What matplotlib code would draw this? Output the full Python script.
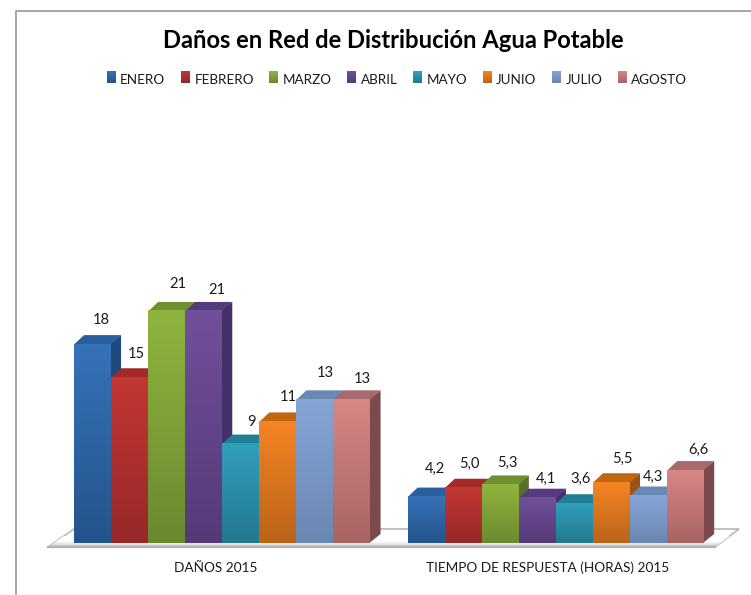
import numpy as np
import matplotlib
matplotlib.use('Agg')
import matplotlib.pyplot as plt
from matplotlib.colors import LinearSegmentedColormap
from matplotlib.image import BboxImage
from matplotlib.legend_handler import HandlerBase
from matplotlib.patches import Polygon, Patch
from matplotlib.transforms import Bbox, TransformedBbox

plt.rcParams['font.family'] = ['Lato', 'DejaVu Sans']

months = ['ENERO', 'FEBRERO', 'MARZO', 'ABRIL', 'MAYO', 'JUNIO', 'JULIO', 'AGOSTO']
categories = ['DAÑOS 2015', 'TIEMPO DE RESPUESTA (HORAS) 2015']
danos = [18, 15, 21, 21, 9, 11, 13, 13]
tiempo = [4.2, 5.0, 5.3, 4.1, 3.6, 5.5, 4.3, 6.6]
danos_labels = ['18', '15', '21', '21', '9', '11', '13', '13']
tiempo_labels = ['4,2', '5,0', '5,3', '4,1', '3,6', '5,5', '4,3', '6,6']

# colores: claro arriba, oscuro abajo, lado, tapa
light = ['#3672b8', '#c23733', '#8fb43e', '#71509a', '#31a0bd', '#f58424', '#86a5d6', '#d88585']
dark = ['#24548c', '#97282a', '#6b8a30', '#553a78', '#23788f', '#bb6418', '#6a86b2', '#a86464']
side = ['#1f4a7d', '#7c2020', '#56702a', '#45306a', '#1d6478', '#9c5212', '#587098', '#7c4a4c']
top = ['#2a5f9e', '#a32a28', '#6f9030', '#553b7c', '#227f98', '#c0660f', '#6a88b4', '#a86a6c']

# desplazamiento de cada etiqueta respecto al centro y tope de la barra, en pixeles
danos_offsets = [(9, 24), (7, 23), (12, 27), (14, 21), (11, 21.5), (10.5, 24.4), (10.5, 26.4), (10.4, 20.4)]
tiempo_offsets = [(9, 27.6), (7, 24), (8, 21.4), (9, 18.7), (7, 24), (11, 23), (5, 18.5), (13, 20)]

W, H = 751, 595
px_x = 37.07
px_y = 11.05
x0 = 73.5
base = 543
dx = 10.5 / px_x
dy = 9 / px_y


def grad(i):
    return LinearSegmentedColormap.from_list('b', [light[i], dark[i]])


class GradientHandler(HandlerBase):
    def create_artists(self, legend, orig_handle, xdescent, ydescent, width, height, fontsize, trans):
        img = BboxImage(TransformedBbox(Bbox.from_bounds(xdescent, ydescent, width, height), trans),
                        cmap=grad(orig_handle.index), interpolation='bilinear')
        img.set_data(np.linspace(0, 1, 16)[:, None])
        return [img]


class MonthPatch(Patch):
    def __init__(self, index, **kwargs):
        super().__init__(**kwargs)
        self.index = index


fig = plt.figure(figsize=(W / 100, H / 100), dpi=100)
ax = fig.add_axes([0, 0, 1, 1])
ax.axis('off')


def to_data(px, py):
    return (px - x0) / px_x, (base - py) / px_y


# marco
ax.plot(*zip(to_data(16, 595), to_data(16, 10.5), to_data(751, 10.5)), color='#a6a6a6', lw=1.4)

# piso
floor = Polygon([to_data(48, 547), to_data(74, 529), to_data(739, 529), to_data(715, 547)],
                closed=True, facecolor='white', edgecolor='#b8b8b8', lw=1.2, zorder=1)
ax.add_patch(floor)
shade = LinearSegmentedColormap.from_list('s', ['#ffffff', '#ffffff', '#c2c2c2'])
fx0, fy0 = to_data(48, 547)
fx1, fy1 = to_data(739, 536)
img = ax.imshow(np.linspace(0, 1, 32)[:, None], cmap=shade, aspect='auto', extent=(fx0, fx1, fy0, fy1), zorder=1.1)
img.set_clip_path(floor)
ax.plot(*zip(to_data(48, 547), to_data(715, 547)), color='#b0b0b0', lw=1.6, zorder=1.2)

for g, values in enumerate([danos, tiempo]):
    labels = [danos_labels, tiempo_labels][g]
    offsets = [danos_offsets, tiempo_offsets][g]
    for i, v in enumerate(values):
        x = g * 9 + i
        z = 2 + i * 0.1
        ax.add_patch(Polygon([(x + 0.98, 0), (x + 1 + dx, dy), (x + 1 + dx, v + dy), (x + 0.98, v)],
                             closed=True, facecolor=side[i], edgecolor='none', zorder=z))
        ax.add_patch(Polygon([(x + 0.01, v - 0.05), (x + dx, v + dy), (x + 1 + dx, v + dy), (x + 0.99, v - 0.05)],
                             closed=True, facecolor=top[i], edgecolor='none', zorder=z))
        ax.imshow(np.linspace(0, 1, 64)[:, None], cmap=grad(i), aspect='auto',
                  extent=(x + 0.01, x + 0.99, 0, v), zorder=z + 0.01)
        ox, oy = offsets[i]
        ax.text(x + 0.5 + ox / px_x, v + oy / px_y, labels[i], ha='center', va='center',
                fontsize=10.6, color='#1a1a1a', zorder=5)

ax.text(*to_data(216, 568), categories[0], ha='center', va='center', fontsize=9.8, color='#1a1a1a')
ax.text(*to_data(547.5, 568), categories[1], ha='center', va='center', fontsize=9.8, color='#1a1a1a')

ax.set_xlim(-x0 / px_x, (W - x0) / px_x)
ax.set_ylim(-(H - base) / px_y, base / px_y)

ax.text(*to_data(393, 40.5), 'Daños en Red de Distribución Agua Potable', ha='center', va='center',
        fontsize=17.1, fontweight='bold', color='black')

handles = [MonthPatch(i, label=months[i]) for i in range(8)]
ax.legend(handles=handles, handler_map={MonthPatch: GradientHandler()}, ncol=8, frameon=False, loc='center',
          bbox_to_anchor=(397 / W, 1 - 80 / H), fontsize=9.7, handlelength=0.65, handleheight=0.9,
          handletextpad=0.35, columnspacing=1.15, labelcolor='#1a1a1a')

fig.savefig('out.png', dpi=100)
